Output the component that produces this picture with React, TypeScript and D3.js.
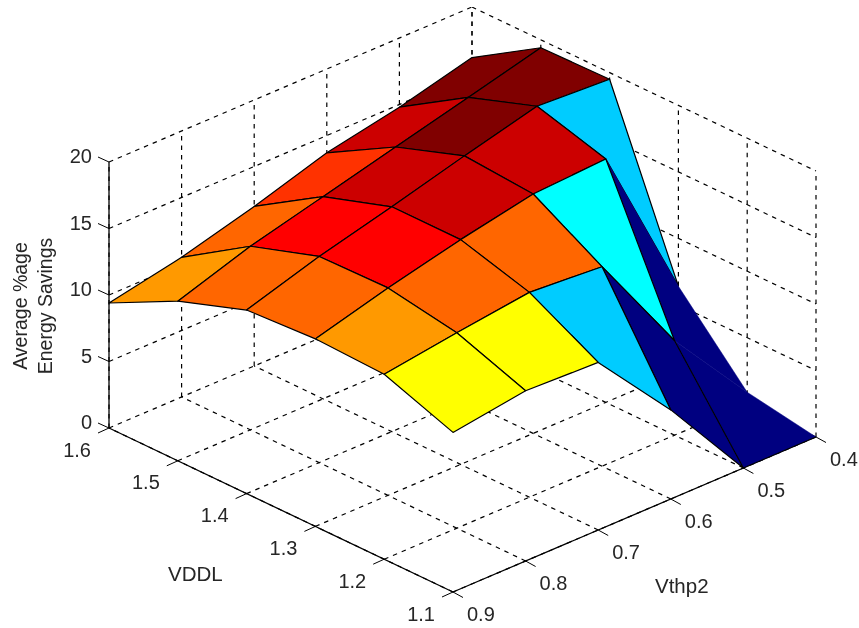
import React from "react";
import * as d3 from "d3";

// Tick values
const vthpTicks = [0.9, 0.8, 0.7, 0.6, 0.5, 0.4];
const vddlTicks = [1.1, 1.2, 1.3, 1.4, 1.5, 1.6];
const zTicks = [0, 5, 10, 15, 20];

// Average %age energy savings, one list per VDDL, ordered along vthpTicks
const savingsAt11 = [12.0, 12.8, 12.6, 6.7, 0.0, 0.0];
const savingsAt12 = [13.9, 14.7, 15.4, 15.0, 7.1, 0.9];
const savingsAt13 = [14.1, 15.6, 16.9, 18.0, 18.3, 6.4];
const savingsAt14 = [13.8, 15.5, 16.9, 18.4, 19.8, 19.5];
const savingsAt15 = [12.0, 13.8, 15.2, 16.6, 18.0, 19.4];
const savingsAt16 = [9.4, 10.5, 12.0, 13.7, 14.8, 16.2];
const savings = [savingsAt11, savingsAt12, savingsAt13, savingsAt14, savingsAt15, savingsAt16];

// Colour bands of the image's reduced jet colormap
const bandLimits = [3, 6.9, 10, 13.3, 14.9, 16, 16.75, 17.5, 19];
const bandColors = ["#000080", "#00CCFF", "#00FFFF", "#FFFF00", "#FF9900", "#FF6600", "#FF3300", "#FF0000", "#CC0000", "#800000"];

const colorOf = d3.scaleThreshold<number, string>().domain(bandLimits).range(bandColors);

const uScale = d3.scaleLinear().domain([0.9, 0.4]).range([0, 1]);
const wScale = d3.scaleLinear().domain([1.1, 1.6]).range([0, 1]);
const zScale = d3.scaleLinear().domain([0, 20]).range([0, 266]);

type P = [number, number];
const project = (v: number, d: number, z: number): P => {
  const u = uScale(v);
  const w = wScale(d);
  return [453 + 363 * u - 344 * w, 592 - 155 * u - 164 * w - zScale(z)];
};
const path = d3.line<P>().x((p) => p[0]).y((p) => p[1]);
const closed = (pts: P[]) => path(pts) + "Z";

const TEXT = "#262626";
const FONT = "'Liberation Sans', Arial, sans-serif";
const V0 = vthpTicks[0], V1 = vthpTicks[5], D0 = vddlTicks[0], D1 = vddlTicks[5], Z1 = zTicks[4];

export default function App() {
  const grid: [P, P][] = [];
  vthpTicks.forEach((v) => {
    grid.push([project(v, D0, 0), project(v, D1, 0)]);
    grid.push([project(v, D1, 0), project(v, D1, Z1)]);
  });
  vddlTicks.forEach((d) => {
    grid.push([project(V0, d, 0), project(V1, d, 0)]);
    grid.push([project(V1, d, 0), project(V1, d, Z1)]);
  });
  zTicks.slice(1).forEach((z) => {
    grid.push([project(V0, D1, z), project(V1, D1, z)]);
    grid.push([project(V1, D1, z), project(V1, D0, z)]);
  });

  const faces: { pts: P[]; fill: string; outline: boolean; key: string }[] = [];
  for (let j = 4; j >= 0; j--) {
    for (let i = 4; i >= 0; i--) {
      const pts: P[] = [
        project(vthpTicks[i], vddlTicks[j], savings[j][i]),
        project(vthpTicks[i + 1], vddlTicks[j], savings[j][i + 1]),
        project(vthpTicks[i + 1], vddlTicks[j + 1], savings[j + 1][i + 1]),
        project(vthpTicks[i], vddlTicks[j + 1], savings[j + 1][i]),
      ];
      const fill = colorOf(savings[j][i + 1]);
      faces.push({ pts, fill, outline: !(i === 4 && j < 2), key: `${i}-${j}` });
    }
  }

  const axisLines: [P, P][] = [
    [project(V0, D1, 0), project(V0, D1, Z1)],
    [project(V0, D1, 0), project(V0, D0, 0)],
    [project(V0, D0, 0), project(V1, D0, 0)],
  ];
  const offset = (p: P, dx: number, dy: number): [P, P] => [p, [p[0] + dx, p[1] + dy]];
  const ticks: [P, P][] = [
    ...zTicks.map((z) => offset(project(V0, D1, z), -11, -5)),
    ...vddlTicks.map((d) => offset(project(V0, d, 0), -11, 5)),
    ...vthpTicks.map((v) => offset(project(v, D0, 0), 10, 5.5)),
  ];

  return (
    <svg
      width={859}
      height={628}
      style={{ position: "absolute", left: 0, top: 0, background: "#fff" }}
      fontFamily={FONT}
    >
      <defs>
        <filter id="soft" x="0" y="0" width="100%" height="100%">
          <feGaussianBlur stdDeviation="0.45" />
        </filter>
      </defs>
      <g filter="url(#soft)">
        <g stroke="#000" strokeWidth={1.2} strokeDasharray="4.5 5" fill="none">
          {grid.map((l, k) => (
            <path key={k} d={path(l) ?? ""} />
          ))}
        </g>
        {faces.map((f) => (
          <path
            key={f.key}
            d={closed(f.pts)}
            fill={f.fill}
            stroke={f.outline ? "#000" : f.fill}
            strokeWidth={f.outline ? 1.2 : 0.5}
            strokeLinejoin="round"
          />
        ))}
        <g stroke="#000" strokeWidth={1.3} fill="none">
          {axisLines.map((l, k) => (
            <path key={k} d={path(l) ?? ""} />
          ))}
          {ticks.map((l, k) => (
            <path key={k} d={path(l) ?? ""} strokeWidth={1} />
          ))}
        </g>
        <g fill={TEXT} fontSize={20}>
          {zTicks.map((z) => {
            const [x, y] = project(V0, D1, z);
            return (
              <text key={z} x={x - 17} y={y + 1} textAnchor="end">
                {z}
              </text>
            );
          })}
          {vddlTicks.map((d) => {
            const [x, y] = project(V0, d, 0);
            return (
              <text key={d} x={x - 18} y={y + 28.5} textAnchor="end">
                {d.toFixed(1)}
              </text>
            );
          })}
          {vthpTicks.map((v) => {
            const [x, y] = project(v, D0, 0);
            return (
              <text key={v} x={x + 14} y={y + 28.5}>
                {v.toFixed(1)}
              </text>
            );
          })}
          <text x={168} y={581} fontSize={20.5}>VDDL</text>
          <text x={655} y={593} fontSize={20.5}>Vthp2</text>
          <text transform="translate(27,306) rotate(-90)" textAnchor="middle" fontSize={19.5}>
            Average %age
          </text>
          <text transform="translate(52,306) rotate(-90)" textAnchor="middle" fontSize={19.5}>
            Energy Savings
          </text>
        </g>
      </g>
    </svg>
  );
}
